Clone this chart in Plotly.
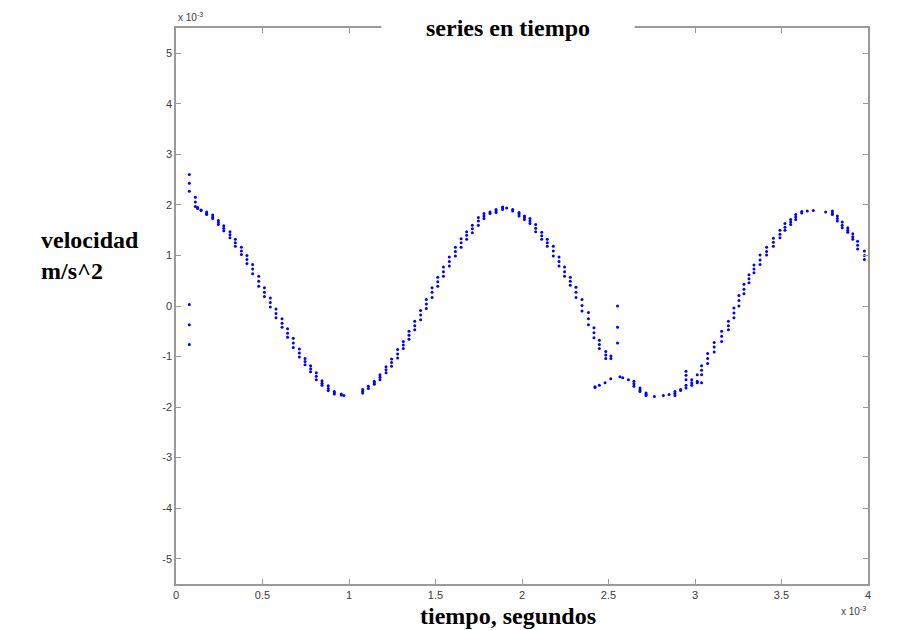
import plotly.graph_objects as go

# Sample times (units of 1e-3 s) and the velocity readings taken at each time
# (units of 1e-3), several readings per time stamp.
t_ms = [
    0.077, 0.112, 0.125, 0.145, 0.177, 0.212, 0.245, 0.276, 0.312, 0.343,
    0.378, 0.410, 0.443, 0.478, 0.511, 0.545, 0.578, 0.613, 0.645, 0.678,
    0.713, 0.746, 0.778, 0.811, 0.844, 0.880, 0.915, 0.955, 0.970,
    1.079, 1.112, 1.146, 1.179, 1.214, 1.246, 1.281, 1.314, 1.347, 1.380,
    1.414, 1.447, 1.480, 1.513, 1.546, 1.580, 1.615, 1.648, 1.680, 1.713,
    1.748, 1.780, 1.815, 1.850, 1.888, 1.911, 1.946, 1.983, 2.014, 2.046,
    2.079, 2.114, 2.146, 2.181, 2.214, 2.246, 2.279, 2.312, 2.347, 2.384,
    2.416, 2.447, 2.484, 2.514, 2.552,
    2.422, 2.447, 2.480, 2.513, 2.566, 2.582, 2.615, 2.647, 2.682, 2.717,
    2.765, 2.817, 2.850, 2.884, 2.917, 2.948, 2.981, 3.013, 3.038, 3.073,
    3.111, 3.154, 3.193, 3.225, 3.254, 3.283, 3.312, 3.341, 3.376, 3.414,
    3.453, 3.491, 3.520, 3.553, 3.582, 3.617, 3.649, 3.684, 3.755, 3.794,
    3.823, 3.851, 3.883, 3.912, 3.940, 3.979,
]

v_readings = [
    [2.60, 2.43, 2.27, 0.03, -0.37, -0.76], [2.15, 2.06, 1.97], [1.95, 1.93],
    [1.90, 1.89], [1.86, 1.83, 1.81], [1.80, 1.76, 1.73], [1.69, 1.65, 1.61],
    [1.59, 1.54, 1.49], [1.47, 1.41, 1.35], [1.32, 1.25, 1.18],
    [1.16, 1.09, 1.02], [1.00, 0.92, 0.84], [0.82, 0.73, 0.64],
    [0.59, 0.49, 0.39], [0.36, 0.27, 0.19], [0.16, 0.07, -0.02],
    [-0.06, -0.15, -0.23], [-0.25, -0.34, -0.42], [-0.45, -0.54, -0.62],
    [-0.64, -0.73, -0.82], [-0.85, -0.93, -1.01], [-1.04, -1.10, -1.16],
    [-1.18, -1.24, -1.30], [-1.32, -1.39, -1.46], [-1.48, -1.53, -1.57],
    [-1.58, -1.63, -1.67], [-1.69, -1.72, -1.74], [-1.74, -1.76], [-1.77],
    [-1.65, -1.69, -1.72], [-1.59, -1.63], [-1.49, -1.52, -1.55],
    [-1.36, -1.41, -1.46], [-1.20, -1.26, -1.32], [-1.05, -1.12, -1.19],
    [-0.86, -0.95, -1.03], [-0.70, -0.77, -0.84], [-0.50, -0.58, -0.66],
    [-0.30, -0.39, -0.47], [-0.09, -0.18, -0.27], [0.13, 0.04, -0.05],
    [0.36, 0.27, 0.17], [0.57, 0.48, 0.39], [0.77, 0.68, 0.59],
    [0.97, 0.88, 0.79], [1.16, 1.08, 0.99], [1.33, 1.25, 1.16],
    [1.47, 1.40, 1.32], [1.60, 1.53, 1.45], [1.75, 1.68, 1.60],
    [1.83, 1.78, 1.73], [1.86, 1.83], [1.91, 1.88, 1.85], [1.96, 1.94, 1.91],
    [1.94], [1.91, 1.88], [1.85, 1.82, 1.78], [1.78, 1.75, 1.71],
    [1.73, 1.68, 1.63], [1.61, 1.54, 1.47], [1.46, 1.39, 1.32],
    [1.32, 1.25, 1.18], [1.18, 1.09, 0.99], [0.97, 0.88, 0.79],
    [0.77, 0.68, 0.59], [0.57, 0.49, 0.41], [0.37, 0.27, 0.17],
    [0.13, 0.01, -0.10], [-0.13, -0.25, -0.37], [-0.43, -0.53, -0.63],
    [-0.68, -0.76, -0.84], [-0.90, -0.97, -1.04], [-0.99, -1.04],
    [0.00, -0.42, -0.73],
    [-1.61, -1.60], [-1.57], [-1.52], [-1.44], [-1.40], [-1.42], [-1.46],
    [-1.49, -1.54, -1.59], [-1.62, -1.66, -1.69], [-1.72, -1.75, -1.77],
    [-1.79], [-1.77], [-1.75], [-1.69, -1.73, -1.77], [-1.65, -1.67],
    [-1.29, -1.37, -1.46, -1.57, -1.62], [-1.46, -1.52, -1.57],
    [-1.36, -1.49, -1.52], [-1.18, -1.27, -1.36, -1.52],
    [-0.94, -1.04, -1.14], [-0.72, -0.81, -0.91], [-0.50, -0.60, -0.70],
    [-0.30, -0.39, -0.47], [-0.04, -0.14, -0.23], [0.21, 0.11, 0.00],
    [0.43, 0.33, 0.24], [0.62, 0.54, 0.46], [0.81, 0.73, 0.66],
    [1.01, 0.91, 0.82], [1.16, 1.08, 1.01], [1.34, 1.26, 1.18],
    [1.50, 1.42, 1.35], [1.63, 1.56, 1.50], [1.71, 1.66, 1.61],
    [1.81, 1.76, 1.71], [1.87, 1.84], [1.88], [1.89], [1.86],
    [1.88, 1.84, 1.81], [1.78, 1.73, 1.68], [1.66, 1.60, 1.55],
    [1.55, 1.50, 1.46], [1.43, 1.37, 1.32], [1.28, 1.20, 1.13],
    [1.09, 1.00, 0.92],
]

x_ticks = [0, 0.5, 1, 1.5, 2, 2.5, 3, 3.5, 4]
x_tick_text = ["0", "0.5", "1", "1.5", "2", "2.5", "3", "3.5", "4"]
y_ticks = [-5, -4, -3, -2, -1, 0, 1, 2, 3, 4, 5]
y_tick_text = ["-5", "-4", "-3", "-2", "-1", "0", "1", "2", "3", "4", "5"]

xs, ys = [], []
for t, vals in zip(t_ms, v_readings):
    for v in vals:
        xs.append(t)
        ys.append(v)

AXIS_GREY = "#9a9a9a"
TICK_FONT = dict(family="Liberation Sans, Arial, sans-serif", size=11, color="#3c3c3c")
SERIF_BOLD = dict(family="Liberation Serif, Times New Roman, serif", size=24, color="#000000")
SMALL_FONT = dict(family="Liberation Sans, Arial, sans-serif", size=10, color="#3c3c3c")

fig = go.Figure(
    go.Scatter(
        x=xs, y=ys, mode="markers",
        marker=dict(size=3, color="#0000ff", line=dict(width=0)),
        showlegend=False, hoverinfo="x+y",
    )
)

axis_common = dict(
    showline=True, linecolor=AXIS_GREY, linewidth=1.5, mirror="ticks",
    ticks="inside", ticklen=5, tickcolor=AXIS_GREY, tickwidth=1,
    showgrid=False, zeroline=False, tickfont=TICK_FONT,
)

fig.update_layout(
    width=907, height=630,
    margin=dict(l=176, r=39, t=28, b=46),
    paper_bgcolor="white", plot_bgcolor="white",
    xaxis=dict(range=[0, 4], tickvals=x_ticks, ticktext=x_tick_text, **axis_common),
    yaxis=dict(range=[-5.5, 5.5], tickvals=y_ticks, ticktext=y_tick_text, **axis_common),
)

annotations = [
    # title sits on the top frame line with a white backing
    dict(text="<b>series en tiempo</b>", xref="paper", yref="paper",
         x=0.48, y=1.0, xanchor="center", yanchor="middle",
         showarrow=False, font=SERIF_BOLD, bgcolor="white", width=250, height=28),
    dict(text="<b>tiempo, segundos</b>", xref="paper", yref="paper",
         x=0.48, y=-0.057, xanchor="center", yanchor="middle",
         showarrow=False, font=SERIF_BOLD),
    dict(text="<b>velocidad<br>m/s^2</b>", xref="paper", yref="paper",
         x=-0.198, y=0.59, xanchor="left", yanchor="middle", align="left",
         showarrow=False, font=SERIF_BOLD),
    dict(text="x 10<sup>-3</sup>", xref="paper", yref="paper",
         x=0.0, y=1.005, xanchor="left", yanchor="bottom",
         showarrow=False, font=SMALL_FONT),
    dict(text="x 10<sup>-3</sup>", xref="paper", yref="paper",
         x=1.0, y=-0.035, xanchor="right", yanchor="top",
         showarrow=False, font=SMALL_FONT),
]
fig.update_layout(annotations=annotations)

fig.write_html("out.html")
